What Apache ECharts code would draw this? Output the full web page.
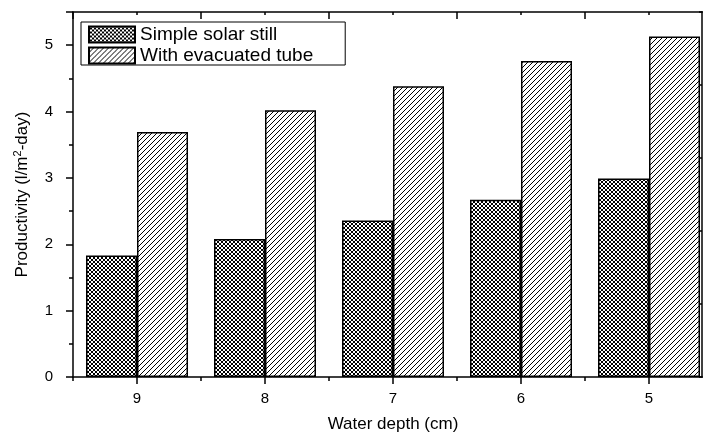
<!DOCTYPE html>
<html>
<head>
<meta charset="utf-8">
<script src="https://cdn.jsdelivr.net/npm/echarts@6/dist/echarts.min.js"></script>
<style>
  html, body { margin: 0; padding: 0; background: #fff; }
  #chart { width: 703px; height: 432px; }
</style>
</head>
<body>
<div id="chart"></div>
<script>
const depths = ["9", "8", "7", "6", "5"];
const simpleStill = [1.83, 2.08, 2.36, 2.67, 2.99];
const evacuatedTube = [3.69, 4.02, 4.38, 4.76, 5.13];
const seriesNames = ["Simple solar still", "With evacuated tube"];

// pixel patterns like the Origin fills
function makePattern(size, cells) {
  const c = document.createElement("canvas");
  c.width = size;
  c.height = size;
  const ctx = c.getContext("2d");
  ctx.fillStyle = "#fff";
  ctx.fillRect(0, 0, size, size);
  ctx.fillStyle = "#000";
  cells.forEach(([x, y]) => ctx.fillRect(x, y, 1, 1));
  return { image: c, repeat: "repeat" };
}

const crossCells = [];
for (let i = 0; i < 4; i++) {
  crossCells.push([i, i]);
  crossCells.push([i, 3 - i]);
}
const hatchCells = [];
for (let i = 0; i < 5; i++) hatchCells.push([i, 4 - i]);

const crossFill = makePattern(4, crossCells);
const hatchFill = makePattern(5, hatchCells);

const chart = echarts.init(document.getElementById("chart"));
const font = "Arial";

// grid 0 holds the bars and the frame lines, grids 1 and 2 (same rect) hold the ticks
const gridBox = () => ({ left: 73, right: -10, top: 12, bottom: 55, outerBoundsMode: "none", containLabel: false });
const line = () => ({ show: true, onZero: false, lineStyle: { color: "#000", width: 1.5 } });
const noLine = () => ({ show: false, onZero: false });
const ticks = (len, extra) =>
  Object.assign({ show: true, length: len, lineStyle: { color: "#000", width: 1.5 } }, extra || {});
const noTicks = () => ({ show: false });
const noLabel = () => ({ show: false });

function catAxis(grid, pos, axisLine, axisTick, axisLabel) {
  return {
    gridIndex: grid,
    type: "category",
    data: depths,
    position: pos,
    axisLine: axisLine,
    axisTick: axisTick,
    axisLabel: axisLabel || noLabel(),
    splitLine: { show: false },
  };
}

function valAxis(grid, pos, max, interval, axisLine, axisTick, offset) {
  return {
    gridIndex: grid,
    type: "value",
    min: 0,
    max: max,
    interval: interval,
    position: pos,
    offset: offset || 0,
    axisLine: axisLine,
    axisTick: axisTick,
    axisLabel: noLabel(),
    splitLine: { show: false },
  };
}

const xMain = catAxis(0, "bottom", line(), noTicks(), {
  margin: 14,
  fontFamily: font,
  fontSize: 15,
  color: "#000",
});
xMain.name = "Water depth (cm)";
xMain.nameLocation = "middle";
xMain.nameGap = 39;
xMain.nameTextStyle = { fontFamily: font, fontSize: 17, color: "#000" };

const yMain = valAxis(0, "left", 5.5, 1, line(), noTicks());
yMain.name = "Productivity (l/m{sup|2}-day)";
yMain.nameLocation = "middle";
yMain.nameGap = 40;
yMain.nameTextStyle = {
  fontFamily: font,
  fontSize: 17,
  color: "#000",
  rich: {
    sup: { fontFamily: font, fontSize: 11, color: "#000", verticalAlign: "top", padding: [0, 0, 10, 0] },
  },
};
yMain.axisLabel = {
  show: true,
  margin: 20,
  fontFamily: font,
  fontSize: 15,
  color: "#000",
  formatter: (v) => (v % 1 === 0 ? String(v) : ""),
};

const option = {
  animation: false,
  backgroundColor: "#fff",
  grid: [gridBox(), gridBox(), gridBox()],
  legend: {
    orient: "vertical",
    left: 81,
    top: 22,
    itemWidth: 46,
    itemHeight: 16,
    itemGap: 2,
    padding: [3, 32, 0, 7],
    borderColor: "#000",
    borderWidth: 1,
    icon: "rect",
    textStyle: { fontFamily: font, fontSize: 19, color: "#000", lineHeight: 16 },
    data: seriesNames,
  },
  xAxis: [
    xMain,
    catAxis(0, "top", line(), noTicks()),
    // long ticks: centres below, boundaries above
    catAxis(1, "bottom", noLine(), ticks(7, { alignWithLabel: true })),
    catAxis(1, "top", noLine(), ticks(7, { inside: true })),
    // short ticks: boundaries below, centres above
    catAxis(2, "bottom", noLine(), ticks(4)),
    catAxis(2, "top", noLine(), ticks(3, { inside: true, alignWithLabel: true })),
  ],
  yAxis: [
    yMain,
    valAxis(0, "right", 5, 1, line(), noTicks(), -11),
    valAxis(1, "left", 5.5, 1, noLine(), ticks(7)),
    valAxis(1, "right", 5, 1, noLine(), ticks(3, { inside: true }), -11),
    valAxis(2, "left", 5.5, 0.5, noLine(), ticks(4)),
  ],
  series: [
    {
      name: seriesNames[0],
      type: "bar",
      xAxisIndex: 0,
      yAxisIndex: 0,
      data: simpleStill,
      barWidth: 51,
      barGap: "0%",
      itemStyle: { color: crossFill, borderColor: "#000", borderWidth: 1.5 },
    },
    {
      name: seriesNames[1],
      type: "bar",
      xAxisIndex: 0,
      yAxisIndex: 0,
      data: evacuatedTube,
      barWidth: 51,
      barGap: "0%",
      itemStyle: { color: hatchFill, borderColor: "#000", borderWidth: 1.5 },
    },
  ],
};

chart.setOption(option);
</script>
</body>
</html>
